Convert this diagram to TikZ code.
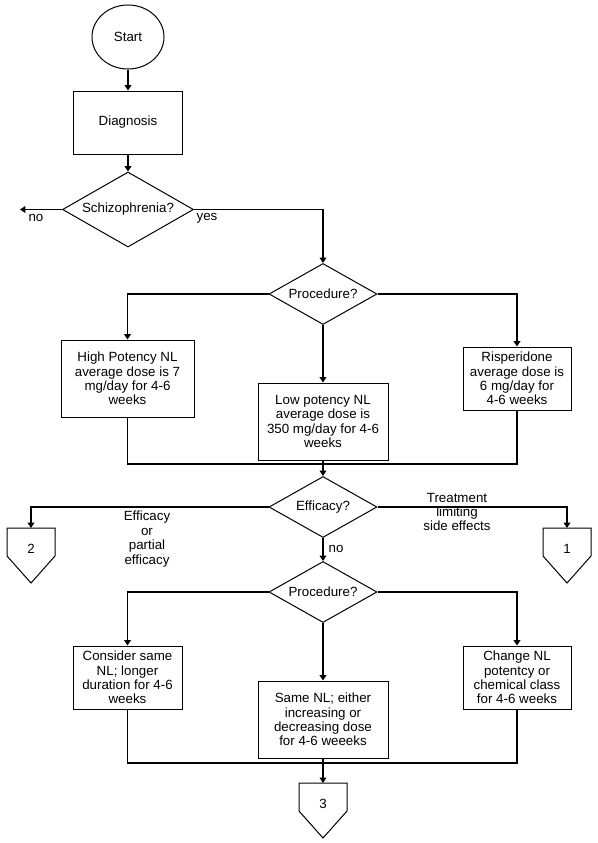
\documentclass[tikz,border=0pt]{standalone}
\usepackage{fontspec}
\setmainfont{Liberation Sans}
\usetikzlibrary{shapes.geometric,arrows.meta}
\tikzset{
	every node/.style={font=\fontsize{10pt}{10.8pt}\selectfont},
	terminal/.style={draw,ellipse,line width=0.75pt,minimum width=54pt,minimum height=48pt,inner sep=0pt},
	box/.style={draw,rectangle,line width=0.75pt,align=center,inner sep=0pt},
	decision/.style={draw,diamond,line width=0.75pt,aspect=1.8,inner sep=0pt,minimum width=81pt,minimum height=45.75pt},
	flow/.style={line width=0.9pt,-{Triangle[width=5pt,length=4pt]}},
	link/.style={line width=0.9pt}
}
\begin{document}
\begin{tikzpicture}[x=0.75pt,y=-0.75pt]
	\useasboundingbox (0,0) rectangle (598,843);
	\node[terminal] (start) at (128,37) {Start};
	\node[box,minimum width=81.75pt,minimum height=47.25pt] (diag) at (128,122.5) {Diagnosis};
	\node[decision,minimum width=98.25pt,minimum height=56.25pt] (schiz) at (128,209.5) {Schizophrenia?};
	\node[decision] (proc1) at (323,294) {Procedure?};
	\node[box,minimum width=99.75pt,minimum height=57.75pt] (high) at (127.5,378.5) {High Potency NL\\average dose is 7\\mg/day for 4-6\\weeks};
	\node[box,minimum width=97.5pt,minimum height=57.75pt] (low) at (323,421.5) {Low potency NL\\average dose is\\350 mg/day for 4-6\\weeks};
	\node[box,minimum width=81pt,minimum height=47.25pt] (risp) at (517,378.5) {Risperidone\\average dose is\\6 mg/day for\\4-6 weeks};
	\node[decision] (eff) at (323,507) {Efficacy?};
	\node[decision] (proc2) at (323,592) {Procedure?};
	\node[box,minimum width=81.75pt,minimum height=47.25pt] (cons) at (127.5,677.5) {Consider same\\NL; longer\\duration for 4-6\\weeks};
	\node[box,minimum width=97.5pt,minimum height=57.75pt] (same) at (323,719.5) {Same NL; either\\increasing or\\decreasing dose\\for 4-6 weeeks};
	\node[box,minimum width=81pt,minimum height=47.25pt] (chng) at (517,677.5) {Change NL\\potentcy or\\chemical class\\for 4-6 weeks};
	\node (two) at (31,549) {2};
	\node (one) at (567,549) {1};
	\node (three) at (323,804) {3};
	\foreach \p in {two,one,three}
		\draw[line width=0.75pt] ([shift={(-24,-21)}]\p.center) -- ([shift={(24,-21)}]\p.center) -- ([shift={(24,7)}]\p.center) -- ([shift={(0,34)}]\p.center) -- ([shift={(-24,7)}]\p.center) -- cycle;
	\coordinate (two top) at ([shift={(0,-21)}]two.center);
	\coordinate (one top) at ([shift={(0,-21)}]one.center);
	\coordinate (three top) at ([shift={(0,-21)}]three.center);
	\coordinate (noend) at (20,209.5);
	\coordinate (join1) at (323,464);
	\coordinate (join2) at (323,763);
	\draw[flow] (start.south) -- (diag.north);
	\draw[flow] (diag.south) -- (schiz.north);
	\draw[flow] (schiz.west) -- (noend);
	\node (no1) at (36,218) {no};
	\draw[flow] (schiz.east) -| (proc1.north);
	\node (yes) at (207,218) {yes};
	\draw[flow] (proc1.west) -| (high.north);
	\draw[flow] (proc1.south) -- (low.north);
	\draw[flow] (proc1.east) -| (risp.north);
	\draw[link] (high.south) |- (join1) -| (risp.south);
	\draw[flow] (low.south) -- (eff.north);
	\draw[flow] (eff.west) -| (two top);
	\draw[flow] (eff.east) -| (one top);
	\node[align=center] (effok) at (147,539) {Efficacy\\or\\partial\\efficacy};
	\node[align=center] (side) at (457,512) {Treatment\\limiting\\side effects};
	\draw[flow] (eff.south) -- (proc2.north);
	\node (no2) at (336,549) {no};
	\draw[flow] (proc2.west) -| (cons.north);
	\draw[flow] (proc2.south) -- (same.north);
	\draw[flow] (proc2.east) -| (chng.north);
	\draw[link] (cons.south) |- (join2) -| (chng.south);
	\draw[flow] (same.south) -- (three top);
\end{tikzpicture}
\end{document}
